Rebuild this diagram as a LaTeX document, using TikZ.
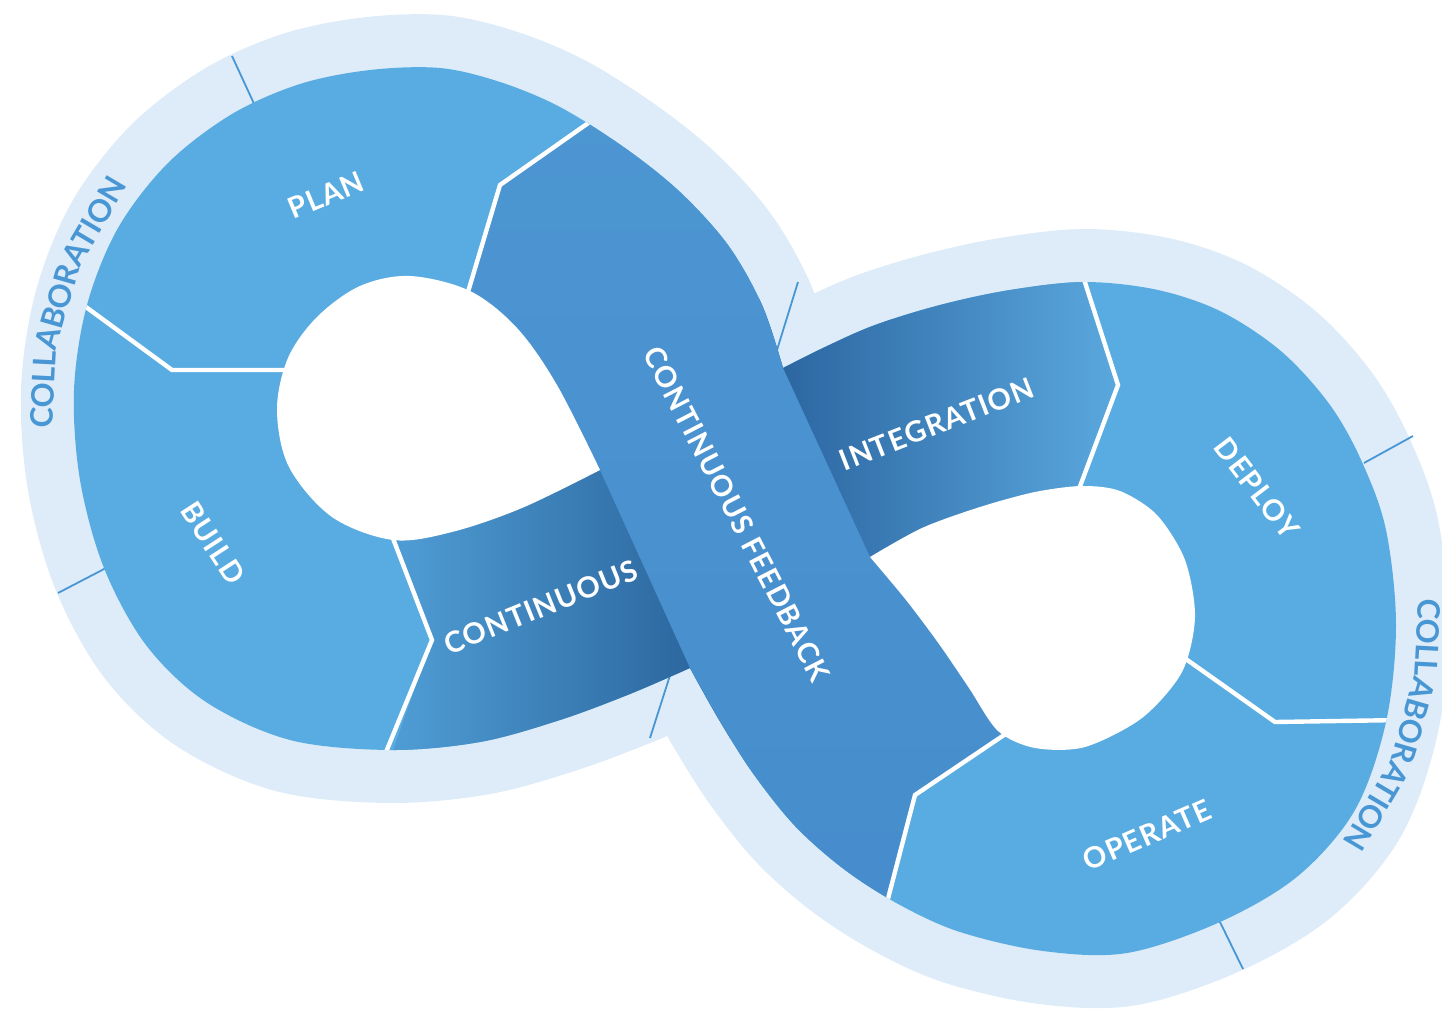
\documentclass[tikz,border=0pt]{standalone}
\usepackage{fontspec}
\setmainfont{Lato}
\newfontfamily\labelfont[LetterSpace=4]{Lato}
\definecolor{lightband}{RGB}{221,236,248}
\definecolor{ringblue}{RGB}{89,172,225}
\definecolor{thinblue}{RGB}{72,150,212}
\definecolor{contL}{RGB}{80,158,214}
\definecolor{contR}{RGB}{40,96,152}
\definecolor{intL}{RGB}{40,96,156}
\definecolor{intR}{RGB}{90,168,222}
\definecolor{diagT}{RGB}{76,150,210}
\definecolor{diagM}{RGB}{50,110,178}
\definecolor{diagB}{RGB}{70,140,204}

\def\BluePath{plot[smooth,tension=0.55] coordinates {(783,368) (762,305) (728,245) (680,192) (625,148) (560,107) (500,82) (440,68) (370,70) (300,84) (232,114) (168,163) (118,228) (87,305) (74,390) (80,480) (104,568) (146,645) (206,702) (290,740) (390,750) (480,742) (560,720) (630,694) (690,668)} -- plot[smooth,tension=0.55] coordinates {(690,668) (718,718) (752,772) (795,826) (845,870) (900,905) (960,932) (1043,951) (1127,953) (1220,922) (1298,876) (1355,810) (1386,722) (1396,625) (1386,530) (1362,462) (1330,405) (1282,352) (1222,312) (1158,290) (1085,282) (1010,290) (940,305) (875,325) (825,347) (783,368)} -- cycle}

\tikzset{
  divider/.style={white, line width=2.2pt, line join=miter},
  sepline/.style={thinblue, line width=0.9pt},
  stagelabel/.style={text=white, font=\labelfont\bfseries\fontsize{14.5}{16}\selectfont, inner sep=0pt},
  collab/.style={text=thinblue, font=\bfseries\fontsize{15.5}{17}\selectfont, inner sep=0pt, anchor=base},
  holefill/.style={fill=white},
}

\begin{document}
\begin{tikzpicture}[x=0.5pt,y=-0.5pt]
\useasboundingbox (0,0) rectangle (1442,1012);

% light outer band
\draw[lightband, line width=53pt, line join=round] \BluePath;

% thin separators in the light band
\draw[sepline] (232,56) -- (256,108);
\draw[sepline] (58,593) -- (108,567);
\draw[sepline] (650,738) -- (673,666);
\draw[sepline] (798,282) -- (777,350);
\draw[sepline] (1364,463) -- (1413,436);
\draw[sepline] (1219,920) -- (1243,969);

% blue ribbon base
\fill[ringblue] \BluePath;

\begin{scope}
  \clip \BluePath;
  % continuous band
  \shade[left color=contL, right color=contR]
    (393,540) -- (432,640) -- (386,770) -- (730,770) -- (730,450) -- (393,450) -- cycle;
  % integration band
  \shade[left color=intL, right color=intR]
    (1076,255) -- (1118,385) -- (1080,487) -- (1000,530) -- (860,575) -- (750,300) -- cycle;
  % diagonal continuous feedback band
  \shade[top color=diagT, middle color=diagM, bottom color=diagB]
    (620,101) -- (500,185) -- (468,290) -- (600,470) -- (690,668) -- (640,720) -- (860,960)
    -- (888,900) -- (915,795) -- (1003,736) -- (945,615) -- (870,557) -- (783,368)
    -- (800,330) -- (700,150) -- cycle;
  % white dividers
  \draw[divider] (75,299) -- (172,370) -- (292,370);
  \draw[divider] (604,112) -- (500,185) -- (465,302);
  \draw[divider] (389,528) -- (432,640) -- (384,757);
  \draw[divider] (1081,270) -- (1118,385) -- (1076,497);
  \draw[divider] (1183,657) -- (1275,722) -- (1402,720);
  \draw[divider] (1010,731) -- (915,795) -- (884,914);
\end{scope}

% holes
\fill[holefill] plot[smooth,tension=0.55] coordinates {(600,470) (557,385) (517,328) (470,291) (410,276) (360,286) (317,317) (288,358) (277,410) (289,467) (332,517) (393,540) (452,532) (522,508) (600,470)} -- cycle;
\fill[holefill] plot[smooth,tension=0.5] coordinates {(870,557) (922,528) (980,507) (1035,492) (1082,486) (1120,491) (1157,515) (1185,560) (1195,617) (1182,672) (1142,718) (1085,747) (1035,748) (998,731) (969,688) (939,644) (906,600) (870,557)} -- cycle;

% stage labels
\node[stagelabel, rotate=22.6] (plan) at (326,195) {PLAN};
\node[stagelabel, rotate=-57] (build) at (213,543) {BUILD};
\node[stagelabel, rotate=21.9] (cont) at (541,607) {CONTINUOUS};
\node[stagelabel, rotate=-62.7] (cfb) at (737,514) {CONTINUOUS FEEDBACK};
\node[stagelabel, rotate=21.3] (integ) at (937,424) {INTEGRATION};
\node[stagelabel, rotate=-52.6] (deploy) at (1257,488) {DEPLOY};
\node[stagelabel, rotate=23.5] (operate) at (1147,835) {OPERATE};

% collaboration texts along the outer band (in three short chords)
\foreach \part/\off [count=\k] in {COLL/6.2,ABOR/19.3,ATION/33.9}{
  \pgfmathsetmacro{\ang}{176.7+\off}
  \node[collab, rotate={-\ang-90}] (colL\k) at ({410+356*cos(\ang)},{408+356*sin(\ang)}) {\part};
  \pgfmathsetmacro{\angr}{-3.1+\off}
  \node[collab, rotate={-\angr-90}] (colR\k) at ({1060+357*cos(\angr)},{618+357*sin(\angr)}) {\part};
}
\end{tikzpicture}
\end{document}
